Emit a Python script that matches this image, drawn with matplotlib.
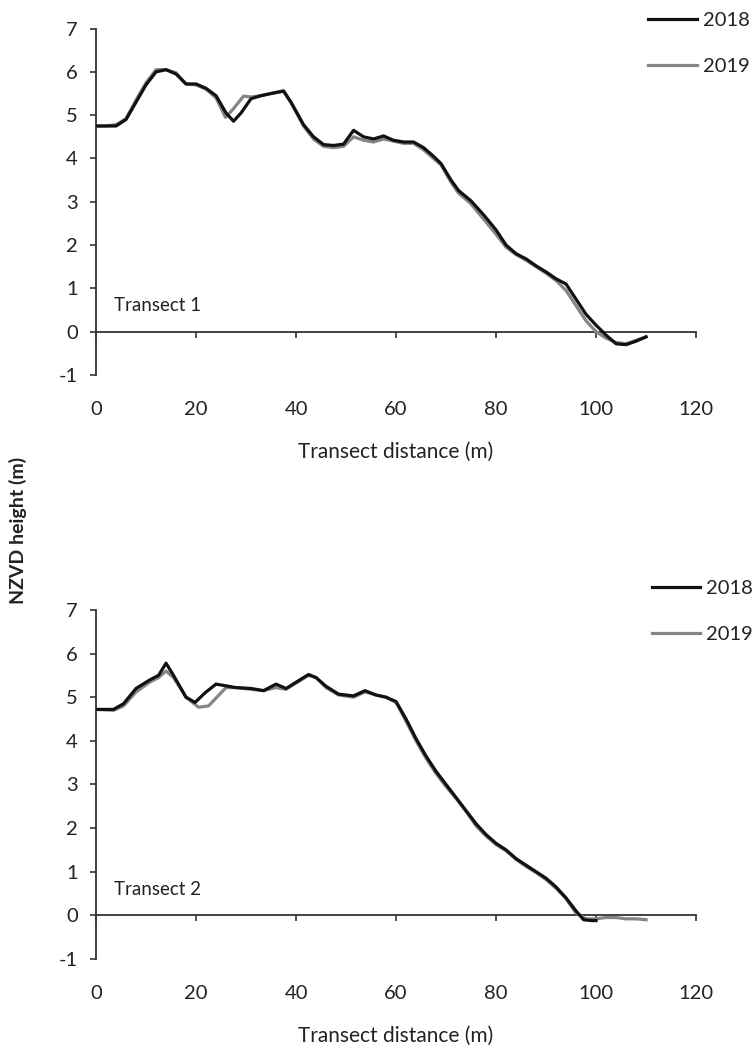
import matplotlib
matplotlib.use("Agg")
import matplotlib.pyplot as plt

plt.rcParams["font.family"] = ["Lato", "DejaVu Sans"]
plt.rcParams["axes.unicode_minus"] = False

# Transect 1
t1_x_2018 = [0, 2, 4, 6, 8, 10, 12, 14, 16, 18, 20, 22, 24, 26, 27.5, 29, 31, 33, 35, 37.5,
             39, 41.5, 43.5, 45.5, 47.5, 49.5, 51.5, 53.5, 55.5, 57.5, 59.5, 61.5, 63.5, 65.5,
             67.5, 69, 71, 72.5, 75, 77.5, 80, 82, 84, 86, 88, 90, 92, 94, 96, 98, 100, 102,
             104, 106, 108, 110]
t1_y_2018 = [4.75, 4.75, 4.75, 4.9, 5.3, 5.7, 6.0, 6.05, 5.95, 5.72, 5.72, 5.62, 5.45, 5.05,
             4.86, 5.05, 5.38, 5.45, 5.5, 5.56, 5.3, 4.78, 4.5, 4.32, 4.3, 4.33, 4.65, 4.5,
             4.45, 4.52, 4.42, 4.38, 4.38, 4.25, 4.05, 3.88, 3.5, 3.26, 3.02, 2.7, 2.35, 2.0,
             1.8, 1.68, 1.52, 1.38, 1.22, 1.1, 0.75, 0.4, 0.15, -0.08, -0.28, -0.3, -0.22, -0.12]

t1_x_2019 = [0, 2, 4, 6, 8, 10, 12, 14, 16, 18, 20, 22, 24, 25.9, 27.5, 29.5, 31, 33, 35, 37.5,
             39, 41.5, 43.5, 45.5, 47.5, 49.5, 51.5, 53.5, 55.5, 57.5, 59.5, 61.5, 63.5, 65.5,
             67.5, 69, 71, 72.5, 75, 77.5, 80, 82, 84, 86, 88, 90, 92, 94, 96, 98, 100, 102,
             104, 106, 108, 110]
t1_y_2019 = [4.75, 4.75, 4.78, 4.92, 5.35, 5.75, 6.05, 6.05, 5.98, 5.72, 5.7, 5.6, 5.4, 4.95,
             5.15, 5.44, 5.42, 5.45, 5.5, 5.55, 5.28, 4.75, 4.45, 4.28, 4.25, 4.28, 4.5, 4.42,
             4.38, 4.45, 4.4, 4.35, 4.35, 4.2, 4.0, 3.85, 3.45, 3.2, 2.95, 2.6, 2.25, 1.95,
             1.78, 1.65, 1.5, 1.35, 1.18, 0.95, 0.6, 0.25, 0.0, -0.15, -0.25, -0.28, -0.2, -0.12]

# Transect 2
t2_x_2018 = [0, 3.5, 5.5, 8, 10.8, 12.5, 14, 15.5, 18, 19.8, 21.8, 24, 28, 31, 33.5, 36, 38,
             40.8, 42.5, 44, 46, 48.5, 51.5, 53.8, 56, 58, 60, 62, 64, 66, 68, 70, 72, 74, 76,
             78, 80, 82, 84, 86, 88, 90, 92, 94, 96, 97.5, 99, 100]
t2_y_2018 = [4.72, 4.72, 4.85, 5.2, 5.4, 5.5, 5.78, 5.5, 5.0, 4.88, 5.1, 5.3, 5.22, 5.2, 5.15,
             5.3, 5.2, 5.4, 5.52, 5.45, 5.25, 5.07, 5.03, 5.15, 5.05, 5.0, 4.9, 4.5, 4.05, 3.65,
             3.3, 3.0, 2.7, 2.4, 2.1, 1.85, 1.65, 1.5, 1.3, 1.15, 1.0, 0.85, 0.65, 0.4, 0.1,
             -0.1, -0.12, -0.12]

t2_x_2019 = [0, 3.5, 5.5, 8, 10.8, 12.5, 14, 15.5, 18, 20.5, 22.5, 26, 28, 31, 33.5, 36, 38,
             40.8, 42.5, 44, 46, 48.5, 51.5, 53.8, 56, 58, 60, 62, 64, 66, 68, 70, 72, 74, 76,
             78, 80, 82, 84, 86, 88, 90, 92, 94, 96, 98, 100, 102, 104, 106, 108, 110]
t2_y_2019 = [4.72, 4.7, 4.8, 5.12, 5.35, 5.45, 5.6, 5.45, 5.0, 4.77, 4.8, 5.22, 5.22, 5.18,
             5.15, 5.22, 5.18, 5.38, 5.5, 5.45, 5.22, 5.05, 5.0, 5.12, 5.05, 5.0, 4.88, 4.45,
             4.0, 3.6, 3.25, 2.95, 2.68, 2.38, 2.05, 1.82, 1.62, 1.48, 1.28, 1.12, 0.98, 0.82,
             0.62, 0.38, 0.05, -0.08, -0.08, -0.05, -0.05, -0.08, -0.08, -0.1]

x_ticks = [0, 20, 40, 60, 80, 100, 120]
y_ticks = [-1, 0, 1, 2, 3, 4, 5, 6, 7]
series_labels = ["2018", "2019"]
panel_labels = ["Transect 1", "Transect 2"]

TEXT = "#222222"
AXIS = "#333333"


def draw_panel(fig, rect, xs, ys, panel_label, legend_pos):

    ax = fig.add_axes(rect)

    ax.plot(xs[1], ys[1], color="#858585", linewidth=2.3, label=series_labels[1], zorder=3)
    ax.plot(xs[0], ys[0], color="#111111", linewidth=2.3, label=series_labels[0], zorder=4)

    ax.set_xlim(0, 120)
    ax.set_ylim(-1, 7)
    ax.set_xticks(x_ticks)
    ax.set_yticks(y_ticks)

    for side in ["top", "right"]:
        ax.spines[side].set_visible(False)

    # x axis sits on zero, labels stay below the plot like excel "low"
    ax.spines["bottom"].set_position(("data", 0))
    ax.spines["bottom"].set_color(AXIS)
    ax.spines["bottom"].set_linewidth(1.3)
    ax.spines["left"].set_color(AXIS)
    ax.spines["left"].set_linewidth(1.3)

    ax.tick_params(axis="x", direction="out", length=4, width=1.2, color=AXIS,
                   pad=46, labelsize=14.5, labelcolor=TEXT)
    ax.tick_params(axis="y", direction="out", length=4, width=1.2, color=AXIS,
                   pad=9, labelsize=14.5, labelcolor=TEXT)

    ax.set_xlabel("Transect distance (m)", fontsize=15, color=TEXT, labelpad=17)

    ax.text(3.5, 0.6, panel_label, fontsize=13.5, color=TEXT, va="center", ha="left")

    handles, labels = ax.get_legend_handles_labels()
    ax.legend(handles[::-1], labels[::-1], loc="upper left",
              bbox_to_anchor=legend_pos, bbox_transform=fig.transFigure,
              frameon=False, borderpad=0, borderaxespad=0, handlelength=2.4,
              handletextpad=0.3, labelspacing=1.45, fontsize=14.5,
              labelcolor=TEXT)

    return ax


def generate_chart():

    fig = plt.figure(figsize=(7.52, 10.5), dpi=100)

    draw_panel(fig, [0.1277, 0.6429, 0.7979, 0.3299],
               [t1_x_2018, t1_x_2019], [t1_y_2018, t1_y_2019],
               panel_labels[0], (0.862, 0.989))

    draw_panel(fig, [0.1277, 0.0867, 0.7979, 0.3324],
               [t2_x_2018, t2_x_2019], [t2_y_2018, t2_y_2019],
               panel_labels[1], (0.867, 0.448))

    fig.text(0.024, 0.495, "NZVD height (m)", rotation=90, fontsize=14,
             fontweight="bold", color=TEXT, ha="center", va="center")

    plt.savefig("out.png", dpi=100)
    plt.close()


if __name__ == "__main__":

    generate_chart()
